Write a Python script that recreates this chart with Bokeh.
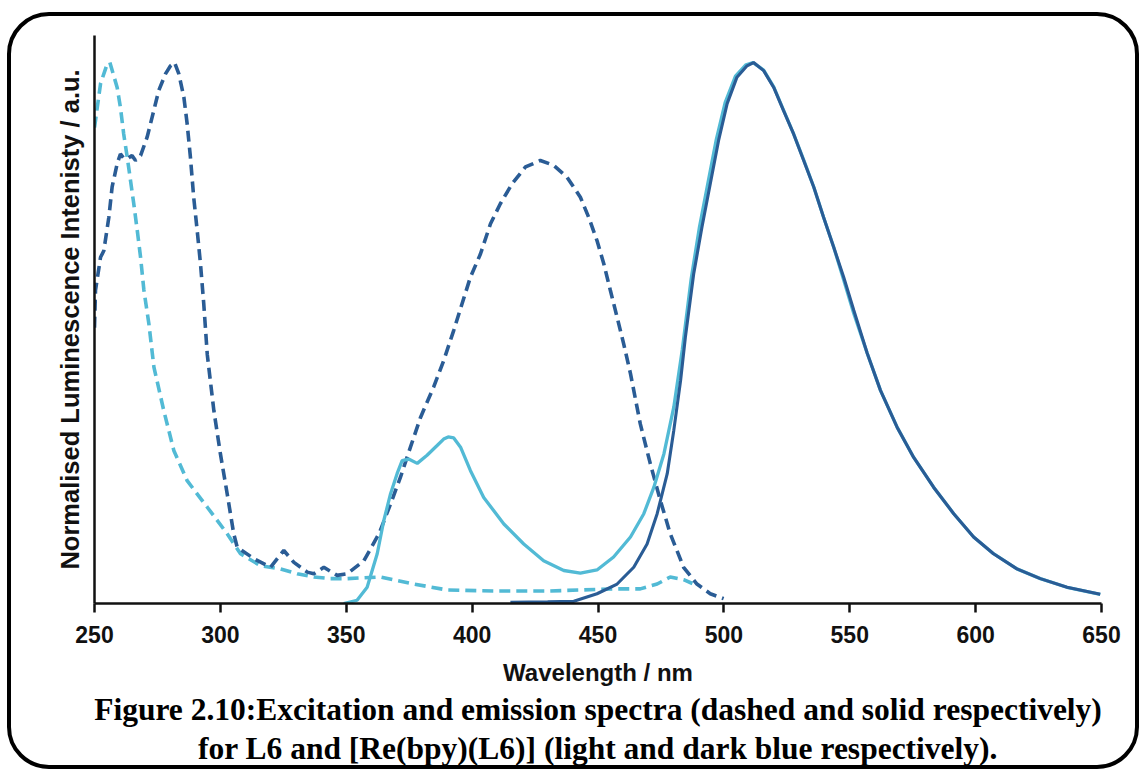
from bokeh.plotting import figure
from bokeh.models import Range1d, FixedTicker, Title
from bokeh.embed import file_html
from bokeh.resources import INLINE

# ---------------- data ----------------
x_ticks = [250, 300, 350, 400, 450, 500, 550, 600, 650]

# L6 excitation (light blue, dashed)
l6_exc_nm = [250.0, 250.4, 252.4, 255.0, 256.1, 259.0, 260.3, 261.6, 263.0, 264.3,
             265.6, 267.0, 268.3, 269.6, 271.6, 273.6, 277.5, 281.5, 286.8, 294.8,
             302.7, 308.0, 315.9, 323.9, 330.5, 337.1, 343.7, 350.4, 363.6, 376.8,
             390.1, 409.9, 429.8, 443.0, 456.2, 466.8, 473.5, 478.7, 484.0, 487.5]
l6_exc_val = [0.880, 0.893, 0.961, 0.997, 1.000, 0.954, 0.917, 0.868, 0.825, 0.782,
              0.739, 0.689, 0.640, 0.580, 0.517, 0.437, 0.357, 0.283, 0.227, 0.178,
              0.129, 0.092, 0.070, 0.064, 0.055, 0.049, 0.046, 0.046, 0.049, 0.036,
              0.025, 0.023, 0.023, 0.025, 0.027, 0.027, 0.036, 0.049, 0.044, 0.037]

# [Re(bpy)(L6)] excitation (dark blue, dashed)
re_exc_nm = [250.0, 250.4, 252.4, 253.7, 255.7, 257.0, 259.0, 260.3, 261.5, 263.0,
             264.9, 266.3, 268.3, 270.9, 272.9, 275.5, 278.2, 280.2, 281.8, 283.5,
             285.5, 286.8, 288.1, 289.4, 290.8, 292.1, 293.4, 294.8, 297.4, 300.0,
             302.7, 305.3, 306.7, 313.3, 319.9, 325.2, 329.2, 334.5, 337.1, 341.1,
             346.4, 350.4, 357.0, 363.1, 367.6, 371.5, 375.5, 379.5, 384.7, 388.7,
             392.7, 396.0, 399.3, 403.3, 407.3, 411.2, 415.9, 421.2, 427.1, 432.4,
             437.7, 443.0, 446.3, 449.6, 452.3, 454.9, 457.6, 460.2, 462.9, 466.8,
             470.8, 474.8, 478.7, 484.0, 489.3, 494.6, 499.9]
re_exc_val = [0.510, 0.579, 0.640, 0.652, 0.714, 0.770, 0.813, 0.831, 0.824, 0.822,
              0.828, 0.819, 0.828, 0.862, 0.899, 0.948, 0.979, 0.994, 1.000, 0.979,
              0.936, 0.887, 0.825, 0.751, 0.689, 0.628, 0.554, 0.460, 0.357, 0.277,
              0.203, 0.129, 0.104, 0.083, 0.067, 0.098, 0.076, 0.058, 0.055, 0.067,
              0.052, 0.055, 0.079, 0.130, 0.184, 0.233, 0.289, 0.344, 0.400, 0.449,
              0.505, 0.554, 0.603, 0.646, 0.702, 0.739, 0.776, 0.807, 0.819, 0.810,
              0.788, 0.751, 0.714, 0.671, 0.628, 0.579, 0.529, 0.480, 0.425, 0.332,
              0.258, 0.190, 0.129, 0.067, 0.036, 0.018, 0.009]

# L6 emission (light blue, solid)
l6_em_nm = [349.0, 354.3, 358.3, 362.3, 364.9, 367.6, 370.2, 372.2, 374.8, 378.2,
            382.1, 386.1, 388.7, 390.5, 392.7, 395.4, 399.3, 404.6, 412.6, 420.5,
            428.4, 436.4, 443.0, 449.6, 456.2, 462.9, 468.2, 472.2, 476.2, 480.1,
            483.5, 487.0, 490.3, 493.6, 497.0, 500.5, 504.6, 508.8, 511.6, 515.8,
            519.8, 523.7, 527.7, 531.7, 535.7, 539.6, 543.6, 547.6, 551.6, 556.9,
            562.2, 568.8, 575.4, 583.3, 591.3, 599.2, 607.1, 616.4, 625.7, 636.3,
            649.5]
l6_em_val = [0.000, 0.006, 0.030, 0.092, 0.153, 0.203, 0.240, 0.264, 0.267, 0.259,
             0.274, 0.292, 0.304, 0.308, 0.306, 0.289, 0.246, 0.196, 0.147, 0.110,
             0.079, 0.061, 0.056, 0.062, 0.086, 0.123, 0.166, 0.215, 0.277, 0.363,
             0.470, 0.600, 0.696, 0.776, 0.858, 0.926, 0.975, 0.996, 1.000, 0.986,
             0.955, 0.912, 0.868, 0.820, 0.770, 0.714, 0.659, 0.598, 0.536, 0.463,
             0.394, 0.326, 0.270, 0.215, 0.166, 0.123, 0.092, 0.064, 0.046, 0.030,
             0.017]

# [Re(bpy)(L6)] emission (dark blue, solid)
re_em_nm = [415.2, 430.0, 440.4, 449.6, 457.6, 464.2, 469.5, 473.5, 477.5, 480.1,
            482.8, 484.7, 488.0, 491.3, 494.6, 497.9, 501.3, 505.2, 509.2, 511.8,
            515.8, 519.8, 523.7, 527.7, 531.7, 535.7, 539.6, 543.6, 547.6, 551.6,
            556.9, 562.2, 568.8, 575.4, 583.3, 591.3, 599.2, 607.1, 616.4, 625.7,
            636.3, 649.5]
re_em_val = [0.002, 0.003, 0.004, 0.018, 0.036, 0.067, 0.110, 0.166, 0.240, 0.320,
             0.412, 0.492, 0.609, 0.696, 0.776, 0.856, 0.924, 0.973, 0.994, 1.000,
             0.985, 0.954, 0.911, 0.868, 0.819, 0.770, 0.714, 0.659, 0.603, 0.542,
             0.463, 0.394, 0.326, 0.270, 0.215, 0.166, 0.123, 0.092, 0.064, 0.046,
             0.030, 0.017]

x_label = "Wavelength / nm"
y_label = "Normalised Luminescence Intenisty / a.u."
caption_1 = "Figure 2.10:Excitation and emission spectra (dashed and solid respectively)"
caption_2 = "for L6 and [Re(bpy)(L6)] (light and dark blue respectively)."

LIGHT = "#52bad5"
DARK = "#2a5c95"

# ---------------- figure ----------------
p = figure(width=1132, height=757, output_backend="svg", toolbar_location=None,
           x_range=Range1d(250, 650), y_range=Range1d(0, 1.05),
           min_border_left=83, min_border_right=42, min_border_top=19,
           min_border_bottom=170)
p.styles = {"border": "4px solid black", "border-radius": "42px",
            "overflow": "hidden", "margin-left": "7px", "margin-top": "12px"}
p.background_fill_color = None
p.border_fill_color = None
p.outline_line_color = None
p.xgrid.visible = False
p.ygrid.visible = False

# x axis
xa = p.xaxis[0]
xa.ticker = FixedTicker(ticks=x_ticks)
xa.major_tick_out = 9
xa.major_tick_in = 0
xa.minor_tick_out = 0
xa.minor_tick_in = 0
xa.axis_line_width = 2.5
xa.major_tick_line_width = 2.5
xa.axis_line_color = "#111111"
xa.major_tick_line_color = "#111111"
xa.major_label_text_font = "Liberation Sans"
xa.major_label_text_font_style = "bold"
xa.major_label_text_font_size = "23px"
xa.major_label_text_color = "#111111"
xa.major_label_standoff = 13
xa.axis_label = x_label
xa.axis_label_text_font = "Liberation Sans"
xa.axis_label_text_font_style = "bold"
xa.axis_label_text_font_size = "24px"
xa.axis_label_text_color = "#111111"
xa.axis_label_standoff = 13

# y axis
ya = p.yaxis[0]
ya.ticker = FixedTicker(ticks=[])
ya.major_tick_out = 0
ya.major_tick_in = 0
ya.minor_tick_out = 0
ya.minor_tick_in = 0
ya.major_label_standoff = 0
ya.axis_line_width = 2.5
ya.axis_line_color = "#111111"
ya.axis_label = y_label
ya.axis_label_text_font = "Liberation Sans"
ya.axis_label_text_font_style = "bold"
ya.axis_label_text_font_size = "25.5px"
ya.axis_label_text_color = "#111111"
ya.axis_label_standoff = 11

# curves
p.line(l6_exc_nm, l6_exc_val, line_color=LIGHT, line_width=3.6, line_dash="11 6")
p.line(re_exc_nm, re_exc_val, line_color=DARK, line_width=3.6, line_dash="11 6")
p.line(l6_em_nm, l6_em_val, line_color=LIGHT, line_width=3.3)
p.line(re_em_nm, re_em_val, line_color=DARK, line_width=3.1)

# caption (two centred lines below the x axis)
for txt, gap in ((caption_1, 3), (caption_2, 0)):
    p.add_layout(Title(text=txt, align="center", text_font="Liberation Serif",
                       text_font_style="bold", text_font_size="31.5px",
                       text_color="#000000", standoff=gap), "below")

open("out.html", "w").write(file_html(p, INLINE))
